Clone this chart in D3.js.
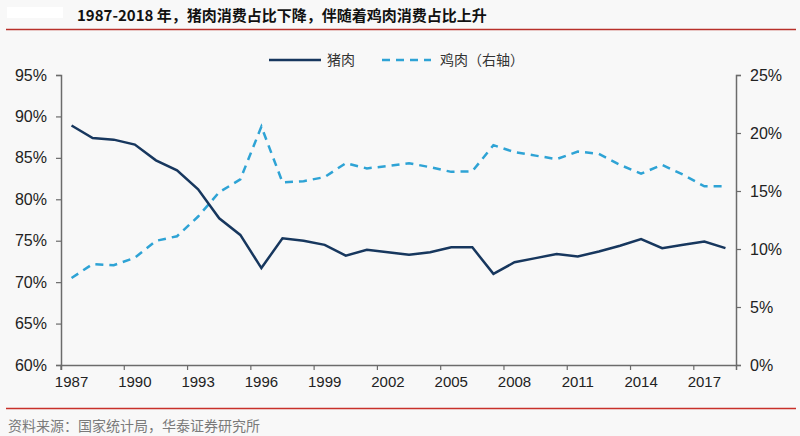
<!DOCTYPE html>
<html><head><meta charset="utf-8">
<script src="https://cdn.jsdelivr.net/npm/d3@7"></script>
<style>
html,body{margin:0;padding:0;background:#f8f8f8;}
svg{display:block;}
</style></head>
<body><svg id="c" width="800" height="436"></svg>
<script>
const years = d3.range(1987, 2019);
const pork = [88.9,87.4,87.2,86.6,84.7,83.5,81.2,77.7,75.7,71.7,75.3,75.0,74.5,73.2,73.9,73.6,73.3,73.6,74.2,74.2,71.0,72.4,72.9,73.4,73.1,73.7,74.4,75.2,74.1,74.5,74.9,74.1];
const chicken = [7.5,8.7,8.6,9.25,10.7,11.1,12.8,14.9,16.0,20.55,15.75,15.85,16.2,17.4,16.95,17.15,17.4,17.05,16.65,16.7,18.95,18.35,18.05,17.75,18.4,18.2,17.25,16.5,17.25,16.4,15.4,15.4];
const leftTicks = [0.60,0.65,0.70,0.75,0.80,0.85,0.90,0.95];
const rightTicks = [0,0.05,0.10,0.15,0.20,0.25];
const labelYears = [1987,1990,1993,1996,1999,2002,2005,2008,2011,2014,2017];
const title = "1987-2018 年，猪肉消费占比下降，伴随着鸡肉消费占比上升";
const source = "资料来源：国家统计局，华泰证券研究所";
const seriesNames = ["猪肉", "鸡肉（右轴）"];

const svg = d3.select("#c");
const L = 61, R = 736, T = 75, B = 365;
const porkColor = "#17375e", chickColor = "#2ea3d5";
const axisColor = "#6b6b6b";

// white patch top-left
svg.append("rect").attr("x",7).attr("y",7).attr("width",56).attr("height",11).attr("fill","#ffffff");

svg.append("text").attr("x",77).attr("y",21)
  .attr("font-family","'Noto Sans CJK SC', sans-serif").attr("font-weight","bold")
  .attr("font-size",15).attr("fill","#111").text(title);
svg.append("line").attr("x1",6).attr("x2",796).attr("y1",29.5).attr("y2",29.5)
  .attr("stroke","#b8302a").attr("stroke-width",1.5);
svg.append("line").attr("x1",6).attr("x2",796).attr("y1",408.5).attr("y2",408.5)
  .attr("stroke","#c8302a").attr("stroke-width",1.5);
svg.append("text").attr("x",8).attr("y",431)
  .attr("font-family","'Noto Sans CJK SC', sans-serif")
  .attr("font-size",14).attr("fill","#7a7a7a").text(source);

const x = d3.scaleBand().domain(years).range([L, R]);
const bw = x.bandwidth();
const yL = d3.scaleLinear().domain([0.60, 0.95]).range([B, T]);
const yR = d3.scaleLinear().domain([0, 0.25]).range([B, T]);

function styleAxis(g, fs){
  g.select(".domain").attr("stroke",axisColor).attr("stroke-width",1.5);
  g.selectAll(".tick line").attr("stroke",axisColor).attr("stroke-width",1.2);
  g.selectAll(".tick text").attr("fill","#222")
    .attr("font-family","'Liberation Sans', Arial, sans-serif").attr("font-size",fs);
}

const gl = svg.append("g").attr("transform",`translate(${L},0)`)
  .call(d3.axisLeft(yL).tickValues(leftTicks).tickFormat(d3.format(".0%")).tickSizeOuter(0).tickSize(5).tickPadding(9));
styleAxis(gl, 16);
const gr = svg.append("g").attr("transform",`translate(${R},0)`)
  .call(d3.axisRight(yR).tickValues(rightTicks).tickFormat(d3.format(".0%")).tickSizeOuter(0).tickSize(5).tickPadding(9));
styleAxis(gr, 16);
const gx = svg.append("g").attr("transform",`translate(0,${B})`)
  .call(d3.axisBottom(x).tickValues(labelYears).tickSizeOuter(0).tickSize(5).tickPadding(6));
styleAxis(gx, 15);
gx.selectAll(".tick line").attr("x1",-bw/2).attr("x2",-bw/2);

const cx = d => x(d) + bw/2;
svg.append("path").datum(years.map((d,i)=>[d,chicken[i]/100]))
  .attr("fill","none").attr("stroke",chickColor).attr("stroke-width",2.5)
  .attr("stroke-dasharray","8,6")
  .attr("d", d3.line().x(d=>cx(d[0])).y(d=>yR(d[1])));
svg.append("path").datum(years.map((d,i)=>[d,pork[i]/100]))
  .attr("fill","none").attr("stroke",porkColor).attr("stroke-width",2.5)
  .attr("d", d3.line().x(d=>cx(d[0])).y(d=>yL(d[1])));

// legend
const lg = svg.append("g");
lg.append("line").attr("x1",269).attr("x2",321).attr("y1",60).attr("y2",60)
  .attr("stroke",porkColor).attr("stroke-width",2.5);
lg.append("text").attr("x",327).attr("y",65).attr("font-size",14)
  .attr("font-family","'Noto Sans CJK SC', sans-serif").attr("fill","#333").text(seriesNames[0]);
lg.append("line").attr("x1",382).attr("x2",431).attr("y1",60).attr("y2",60)
  .attr("stroke",chickColor).attr("stroke-width",2.5).attr("stroke-dasharray","8,6");
lg.append("text").attr("x",440).attr("y",65).attr("font-size",14)
  .attr("font-family","'Noto Sans CJK SC', sans-serif").attr("fill","#333").text(seriesNames[1]);
</script></body></html>
